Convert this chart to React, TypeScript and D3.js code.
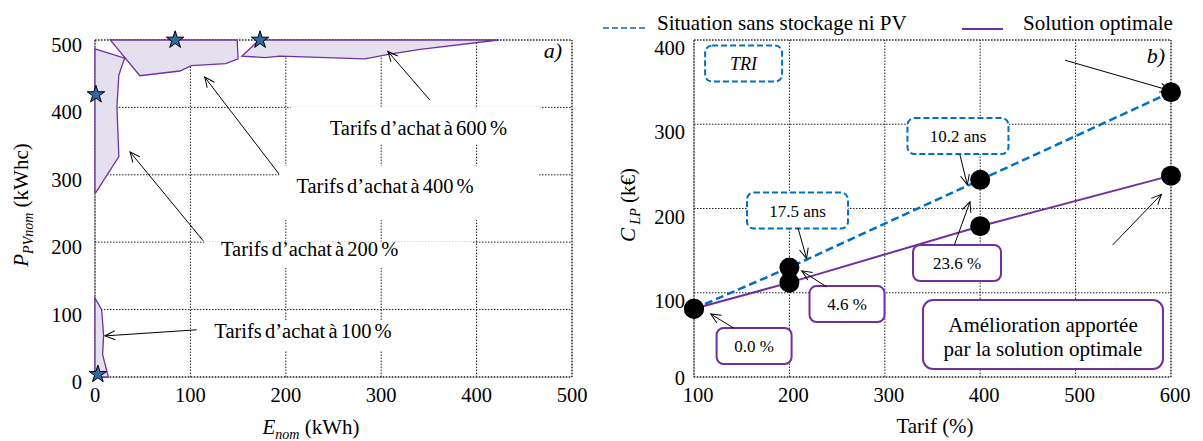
import React from 'react';
import * as d3 from 'd3';

// ---------- data ----------
const lxTicks = [0, 100, 200, 300, 400, 500];
const lyTicks = [0, 100, 200, 300, 400, 500];
const rxTicks = [100, 200, 300, 400, 500, 600];
const ryTicks = [0, 100, 200, 300, 400];

// feasible zones (E_nom kWh, P_PVnom kWhc)
const zone100: [number, number][] = [[0, 117], [7, 100], [9, 62], [8, 33], [14, 0], [0, 0]];
const zone200: [number, number][] = [[0, 487], [31, 473], [25, 448], [23, 401], [25, 327], [1, 274], [0, 274]];
const zone400: [number, number][] = [[16, 500], [149, 500], [150, 472], [137, 465], [101, 462], [89, 454], [47, 447]];
const zone600: [number, number][] = [[172, 500], [423, 500], [341, 486], [309, 479], [283, 472], [194, 476], [178, 474], [154, 476]];
const zones = [zone100, zone200, zone400, zone600];

// optimal points (stars)
const optimumE = [3, 1, 84, 173];
const optimumP = [4, 419, 500, 500];

// zone labels: text, label centre (E,P), arrow tail (E,P), arrow head (E,P)
const zoneLabels = ['Tarifs d’achat à 100 %', 'Tarifs d’achat à 200 %', 'Tarifs d’achat à 400 %', 'Tarifs d’achat à 600 %'];
const zoneLabelPos: [number, number][] = [[218, 58], [225, 179.5], [304, 273], [339, 359]];
// white label backgrounds [E0, E1, P_top, P_bottom]
const zoneLabelBg: [number, number, number, number][] = [[106, 393, 84, 40], [115, 395, 201, 162], [193, 464, 313, 233], [205, 467, 401, 345]];
const zoneArrowTail: [number, number][] = [[106.6, 70], [113.5, 202], [193, 301], [351, 411]];
const zoneArrowHead: [number, number][] = [[10.5, 61], [36.7, 334], [115, 445], [307, 483]];

// right panel
const tarifs = [100, 200, 400, 600];
const sansStockage = [81, 130, 234, 338];
const solutionOptimale = [81, 112, 179, 239];

const triLabels = ['17.5 ans', '10.2 ans'];
const triPos: [number, number][] = [[208.5, 197.6], [376.7, 286]];
const triTail: [number, number][] = [[209, 177], [378.8, 263.5]];
const triHead: [number, number][] = [[218, 140.7], [386.5, 228]];

const gainLabels = ['0.0 %', '4.6 %', '23.6 %'];
const gainPos: [number, number][] = [[163, 36.8], [260.4, 86.6], [375.7, 135.3]];
const gainTail: [number, number][] = [[142, 57.8], [239, 107], [372.9, 156.7]];
const gainHead: [number, number][] = [[117.5, 74.8], [213, 126], [389.3, 208]];

const extraTail: [number, number][] = [[489, 376], [538.8, 156.7]];
const extraHead: [number, number][] = [[599, 340], [590, 216.9]];

const FONT = "'Liberation Serif', 'Times New Roman', Times, 'DejaVu Serif', serif";
const PURPLE = '#7030a0';
const BLUE = '#0070c0';

export default function App() {
  const xL = d3.scaleLinear().domain([0, 500]).range([95, 572]);
  const yL = d3.scaleLinear().domain([0, 500]).range([377, 40]);
  const xR = d3.scaleLinear().domain([100, 600]).range([694, 1171]);
  const yR = d3.scaleLinear().domain([0, 400]).range([377, 40]);

  const poly = d3.line<[number, number]>().x(d => xL(d[0])).y(d => yL(d[1]));
  const star = d3.symbol().type(d3.symbolStar).size(95)();
  const lineR = (vals: number[]) =>
    d3.line<number>().x((_, i) => xR(tarifs[i])).y(d => yR(d))(vals) as string;

  const gridStyle = { stroke: '#222', strokeWidth: 1, strokeDasharray: '1.5,1.5', fill: 'none' };

  const grid = (xs: any, ys: any, xt: number[], yt: number[]) => (
    <g>
      {xt.map(t => (
        <line key={'x' + t} x1={xs(t)} x2={xs(t)} y1={ys.range()[0]} y2={ys.range()[1]} style={gridStyle} />
      ))}
      {yt.map(t => (
        <line key={'y' + t} y1={ys(t)} y2={ys(t)} x1={xs.range()[0]} x2={xs.range()[1]} style={gridStyle} />
      ))}
      <rect x={xs.range()[0]} y={ys.range()[1]} width={xs.range()[1] - xs.range()[0]} height={ys.range()[0] - ys.range()[1]} style={gridStyle} />
    </g>
  );

  const arrow = (t: [number, number], h: [number, number], xs: any, ys: any, key: string) => (
    <line key={key} x1={xs(t[0])} y1={ys(t[1])} x2={xs(h[0])} y2={ys(h[1])} stroke="#000" strokeWidth={1} markerEnd="url(#arr)" />
  );

  const box = (c: [number, number], w: number, h: number, label: string, kind: 'blue' | 'purple', key: string, italic = false, fs = 17) => (
    <g key={key}>
      <rect x={xR(c[0]) - w / 2} y={yR(c[1]) - h / 2} width={w} height={h} rx={7} ry={7}
        fill="#fff" stroke={kind === 'blue' ? BLUE : PURPLE} strokeWidth={2}
        strokeDasharray={kind === 'blue' ? '6,3' : undefined} />
      <text x={xR(c[0])} y={yR(c[1]) + 6} textAnchor="middle" fontSize={fs} fontStyle={italic ? 'italic' : 'normal'}>{label}</text>
    </g>
  );

  return (
    <svg width={1203} height={441} style={{ position: 'absolute', left: 0, top: 0, background: '#fff' }}>
      <style>{`text, tspan { font-family: ${FONT}; }`}</style>
      <defs>
        <marker id="arr" viewBox="0 0 12 12" refX={11} refY={6} markerWidth={12} markerHeight={12} markerUnits="userSpaceOnUse" orient="auto">
          <path d="M1,1.5 L11,6 L1,10.5" fill="none" stroke="#000" strokeWidth={1} />
        </marker>
      </defs>
      <rect x={0} y={0} width={1203} height={441} fill="#fff" />

      {/* ---------------- left panel ---------------- */}
      {grid(xL, yL, lxTicks, lyTicks)}
      {zones.map((z, i) => (
        <path key={'z' + i} d={poly(z) + 'Z'} fill="#e5e0ee" stroke={PURPLE} strokeWidth={1.3} />
      ))}
      {zoneLabelBg.map((b, i) => (
        <rect key={'zb' + i} x={xL(b[0])} y={yL(b[2])} width={xL(b[1]) - xL(b[0])} height={yL(b[3]) - yL(b[2])} fill="#fff" />
      ))}
      {zoneLabels.map((lab, i) => (
        <text key={'zl' + i} x={xL(zoneLabelPos[i][0])} y={yL(zoneLabelPos[i][1])} textAnchor="middle" fontSize={20.5} wordSpacing={-2}>{lab}</text>
      ))}
      {zoneLabels.map((_, i) => arrow(zoneArrowTail[i], zoneArrowHead[i], xL, yL, 'za' + i))}
      {optimumE.map((e, i) => (
        <path key={'s' + i} d={star as string} transform={`translate(${xL(e)},${yL(optimumP[i])})`} fill="#2f6aa0" stroke="#000" strokeWidth={1} />
      ))}
      {lxTicks.map(t => (
        <text key={'lxt' + t} x={xL(t)} y={402} textAnchor="middle" fontSize={20.5}>{t}</text>
      ))}
      {lyTicks.map(t => (
        <text key={'lyt' + t} x={82} y={yL(t) + 12} textAnchor="end" fontSize={20.5}>{t}</text>
      ))}
      <text x={562} y={58} textAnchor="end" fontSize={22} fontStyle="italic">a)</text>
      <text x={311} y={434} textAnchor="middle" fontSize={21}>
        <tspan fontStyle="italic">E</tspan>
        <tspan fontStyle="italic" fontSize={14} dy={5}>nom</tspan>
        <tspan dy={-5}> (kWh)</tspan>
      </text>
      <text transform="translate(28,205) rotate(-90)" textAnchor="middle" fontSize={21}>
        <tspan fontStyle="italic">P</tspan>
        <tspan fontStyle="italic" fontSize={14} dy={5}>PVnom</tspan>
        <tspan dy={-5}> (kWhc)</tspan>
      </text>

      {/* ---------------- right panel ---------------- */}
      {grid(xR, yR, rxTicks, ryTicks)}
      {rxTicks.map(t => (
        <text key={'rxt' + t} x={xR(t) + 4} y={402} textAnchor="middle" fontSize={20.5}>{t}</text>
      ))}
      {ryTicks.map(t => (
        <text key={'ryt' + t} x={685} y={yR(t) + (t === 0 ? 8 : 15)} textAnchor="end" fontSize={20.5}>{t}</text>
      ))}
      <text x={1165} y={63} textAnchor="end" fontSize={22} fontStyle="italic">b)</text>
      <text x={935} y={433} textAnchor="middle" fontSize={21}>Tarif (%)</text>
      <text transform="translate(635,205) rotate(-90)" textAnchor="middle" fontSize={21}>
        <tspan fontStyle="italic">C</tspan>
        <tspan fontStyle="italic" fontSize={14} dy={5}> LP</tspan>
        <tspan dy={-5}> (k€)</tspan>
      </text>

      <path d={lineR(sansStockage)} fill="none" stroke={BLUE} strokeWidth={2.5} strokeDasharray="8,4" />
      <path d={lineR(solutionOptimale)} fill="none" stroke={PURPLE} strokeWidth={2} />
      {tarifs.map((t, i) => (
        <circle key={'c1' + i} cx={xR(t)} cy={yR(sansStockage[i])} r={10} fill="#000" />
      ))}
      {tarifs.map((t, i) => (
        <circle key={'c2' + i} cx={xR(t)} cy={yR(solutionOptimale[i])} r={10} fill="#000" />
      ))}

      {box([152, 372], 77, 36, 'TRI', 'blue', 'tri', true, 18)}
      {triLabels.map((l, i) => box(triPos[i], 101, 36, l, 'blue', 'tb' + i))}
      {triLabels.map((_, i) => arrow(triTail[i], triHead[i], xR, yR, 'ta' + i))}
      {gainLabels.map((l, i) => box(gainPos[i], i === 2 ? 88 : 75, 36, l, 'purple', 'gb' + i))}
      {gainLabels.map((_, i) => arrow(gainTail[i], gainHead[i], xR, yR, 'ga' + i))}
      {extraTail.map((_, i) => arrow(extraTail[i], extraHead[i], xR, yR, 'ea' + i))}

      <rect x={923} y={300} width={240} height={69} rx={10} ry={10} fill="#fff" stroke={PURPLE} strokeWidth={2} />
      <text x={1043} y={332} textAnchor="middle" fontSize={21}>Amélioration apportée</text>
      <text x={1043} y={356} textAnchor="middle" fontSize={21}>par la solution optimale</text>

      {/* legend */}
      <line x1={603} x2={645} y1={28} y2={28} stroke="#4a86c8" strokeWidth={2} strokeDasharray="6,3" />
      <text x={657} y={30} fontSize={21}>Situation sans stockage ni PV</text>
      <line x1={962} x2={1003} y1={29} y2={29} stroke={PURPLE} strokeWidth={2} />
      <text x={1023} y={30} fontSize={21}>Solution optimale</text>
    </svg>
  );
}
